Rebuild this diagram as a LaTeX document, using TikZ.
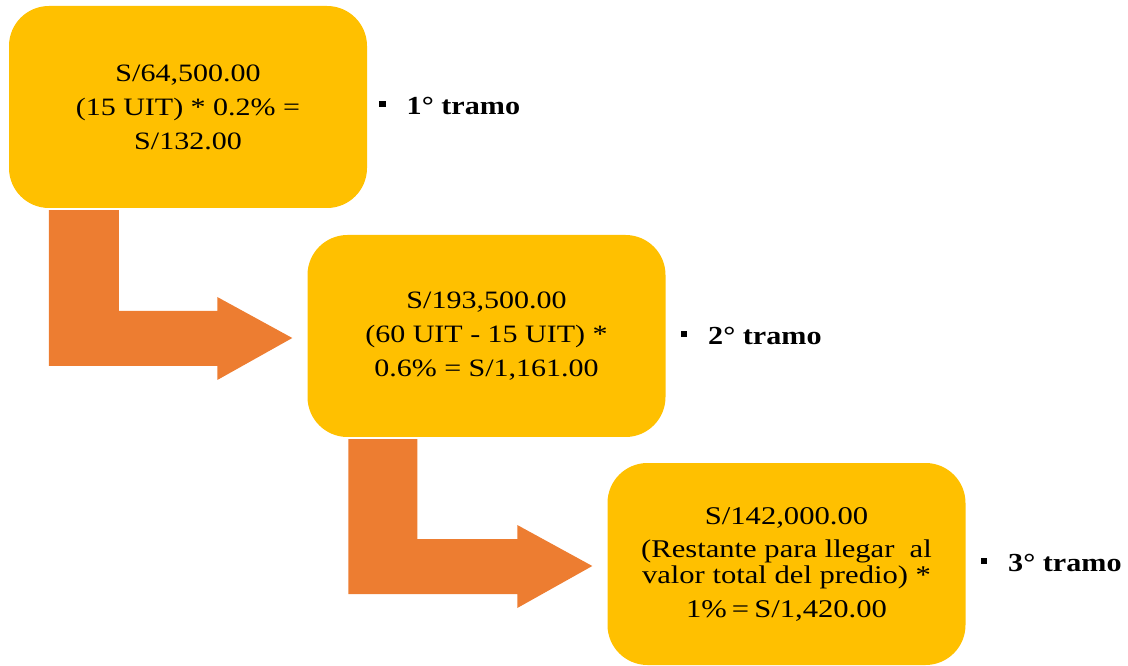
\documentclass[tikz,border=0pt]{standalone}
\usepackage{fontspec}
\setmainfont{Liberation Serif}
\usetikzlibrary{calc}
\definecolor{boxyellow}{HTML}{FFC000}
\definecolor{arroworange}{HTML}{ED7D31}
\begin{document}
\begin{tikzpicture}[x=1pt,y=1pt,
  box/.style={fill=boxyellow, rounded corners=40pt, minimum width=358pt, minimum height=202pt, inner sep=0pt},
  boxtext/.style={align=center, font=\fontsize{25}{34}\selectfont, xscale=1.2, transform shape},
  tramo/.style={anchor=west, font=\bfseries\fontsize{26}{30}\selectfont, xscale=1.16, transform shape, inner sep=0pt},
  bent/.style={fill=arroworange}]
\useasboundingbox (0,0) rectangle (1128,665);
% boxes
\node[box] (b1) at (188,558) {};
\node[box] (b2) at (486.5,329) {};
\node[box] (b3) at (786.5,101) {};
% box texts
\node[boxtext] (t1) at (b1) {S/64,500.00\\(15 UIT) * 0.2\% =\\S/132.00};
\node[boxtext] (t2) at (b2) {S/193,500.00\\(60 UIT - 15 UIT) *\\0.6\% = S/1,161.00};
\node[boxtext, font=\fontsize{25.5}{26}\selectfont] (t3) at (b3) {S/142,000.00\\[7pt](Restante para llegar\ \ al\\valor total del predio) *\\[8pt]1\%\,=\,S/1,420.00};
% bent arrows
\coordinate (s1) at ($(b1.south west)+(40,-2)$);
\coordinate (p1) at ($(b2.west)+(-15,-2)$);
\fill[bent] (s1) -- ++(70,0) -- ($(s1|-p1)+(70,27)$) -- ($(p1)+(-75,27)$) -- ($(p1)+(-75,41)$)
  -- (p1) -- ($(p1)+(-75,-42)$) -- ($(p1)+(-75,-28)$) -- ($(s1|-p1)+(0,-28)$) -- cycle;
\coordinate (s2) at ($(b2.south west)+(41,-2)$);
\coordinate (p2) at ($(b3.west)+(-15,-2)$);
\fill[bent] (s2) -- ++(69,0) -- ($(s2|-p2)+(69,27)$) -- ($(p2)+(-75,27)$) -- ($(p2)+(-75,41)$)
  -- (p2) -- ($(p2)+(-75,-42)$) -- ($(p2)+(-75,-28)$) -- ($(s2|-p2)+(0,-28)$) -- cycle;
% labels
\node[tramo] (l1) at ($(b1.east)+(12,1)$) {\raisebox{0.28em}{\rule{5.5pt}{6pt}}\hspace{18pt}1° tramo};
\node[tramo] (l2) at ($(b2.east)+(15,0)$) {\raisebox{0.28em}{\rule{5.5pt}{6pt}}\hspace{18pt}2° tramo};
\node[tramo] (l3) at ($(b3.east)+(15,1)$) {\raisebox{0.28em}{\rule{5.5pt}{6pt}}\hspace{18pt}3° tramo};
\end{tikzpicture}
\end{document}
